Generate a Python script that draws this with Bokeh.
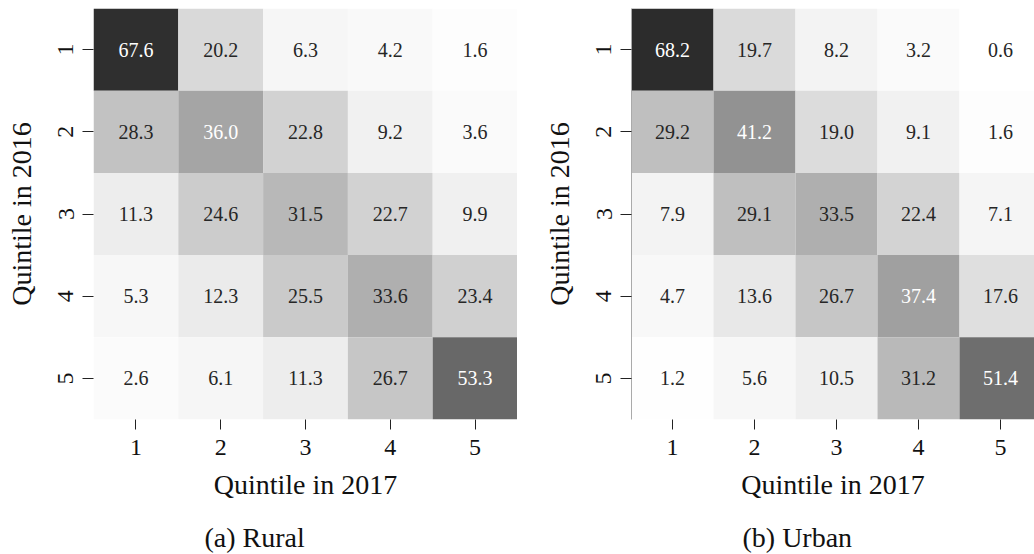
import numpy as np
from bokeh.plotting import figure
from bokeh.layouts import row
from bokeh.models import ColumnDataSource, FixedTicker, Title, LinearColorMapper
from bokeh.core.properties import value
from bokeh.embed import file_html
from bokeh.resources import INLINE

# Transition matrices (row: quintile in 2016, column: quintile in 2017), in percent
quintiles = [1, 2, 3, 4, 5]
tick_labels = ["1", "2", "3", "4", "5"]

rural = [
    [67.6, 20.2, 6.3, 4.2, 1.6],
    [28.3, 36.0, 22.8, 9.2, 3.6],
    [11.3, 24.6, 31.5, 22.7, 9.9],
    [5.3, 12.3, 25.5, 33.6, 23.4],
    [2.6, 6.1, 11.3, 26.7, 53.3],
]
urban = [
    [68.2, 19.7, 8.2, 3.2, 0.6],
    [29.2, 41.2, 19.0, 9.1, 1.6],
    [7.9, 29.1, 33.5, 22.4, 7.1],
    [4.7, 13.6, 26.7, 37.4, 17.6],
    [1.2, 5.6, 10.5, 31.2, 51.4],
]

x_title = "Quintile in 2017"
y_title = "Quintile in 2016"
captions = ["(a) Rural", "(b) Urban"]

SERIF = "'Liberation Serif', serif"

# ColorBrewer "Greys" ramp (white -> black), interpolated to 256 steps
greys9 = ["#ffffff", "#f0f0f0", "#d9d9d9", "#bdbdbd", "#969696",
          "#737373", "#525252", "#252525", "#000000"]
anchor_levels = np.array([int(c[1:3], 16) for c in greys9], dtype=float)
steps = np.linspace(0, len(greys9) - 1, 256)
levels = np.interp(steps, np.arange(len(greys9)), anchor_levels)
palette = ["#{0:02x}{0:02x}{0:02x}".format(int(round(g))) for g in levels]
mapper = LinearColorMapper(palette=palette, low=0, high=80)


def panel(matrix, caption, width, border_left, x_end, spine):
    xs, ys, vals, labels, tcolors = [], [], [], [], []
    for i, r in enumerate(quintiles):
        for j, c in enumerate(quintiles):
            v = matrix[i][j]
            xs.append(c)
            ys.append(r)
            vals.append(v)
            labels.append(f"{v:.1f}")
            tcolors.append("#ffffff" if v > 35 else "#262626")
    src = ColumnDataSource(dict(x=xs, y=ys, v=vals, label=labels, tc=tcolors))

    p = figure(width=width, height=554, x_range=(0.5, x_end), y_range=(5.5, 0.5),
               output_backend="svg", toolbar_location=None,
               min_border_left=border_left, min_border_right=0,
               min_border_top=8, min_border_bottom=135)
    p.rect(x="x", y="y", width=1, height=1, source=src,
           fill_color={"field": "v", "transform": mapper}, line_color=None)
    p.text(x="x", y="y", text="label", source=src, text_color="tc",
           text_align="center", text_baseline="middle",
           text_font=value(SERIF), text_font_size="20px")

    p.outline_line_color = None
    p.grid.visible = False
    p.background_fill_color = "white"
    p.border_fill_color = "white"

    for ax in (p.xaxis[0], p.yaxis[0]):
        ax.ticker = FixedTicker(ticks=quintiles)
        ax.major_label_overrides = {q: t for q, t in zip(quintiles, tick_labels)}
        ax.major_tick_in = 0
        ax.major_tick_out = 10
        ax.minor_tick_line_color = None
        ax.major_tick_line_color = "#222222"
        ax.major_label_text_font = SERIF
        ax.major_label_text_font_size = "24px"
        ax.major_label_text_color = "#111111"
        ax.axis_label_text_font = SERIF
        ax.axis_label_text_font_size = "28px"
        ax.axis_label_text_font_style = "normal"
        ax.axis_label_text_color = "#111111"

    p.xaxis.axis_label = x_title
    p.yaxis.axis_label = y_title
    p.xaxis.axis_line_color = None
    p.yaxis.major_label_orientation = "vertical"
    p.yaxis.major_tick_out = 11
    p.xaxis.major_label_standoff = 10
    p.yaxis.major_label_standoff = 9
    p.xaxis.axis_label_standoff = 11
    p.yaxis.axis_label_standoff = 19
    if spine:
        p.yaxis.axis_line_color = "#aaaaaa"
    else:
        p.yaxis.axis_line_color = None

    # empty gap between the x-axis title and the sub-figure caption
    p.add_layout(Title(text=" ", text_font_size="1px", standoff=16), "below")
    p.add_layout(Title(text=caption, align="left", offset=111, standoff=0,
                       vertical_align="top",
                       text_font=SERIF, text_font_size="28px",
                       text_font_style="normal", text_color="#111111"), "below")
    return p


p1 = panel(rural, captions[0], 517, 93, 5.5, False)
p2 = panel(urban, captions[1], 517, 114, 0.5 + 403 / 82, True)

layout = row(p1, p2)
open("out.html", "w").write(file_html(layout, INLINE))
